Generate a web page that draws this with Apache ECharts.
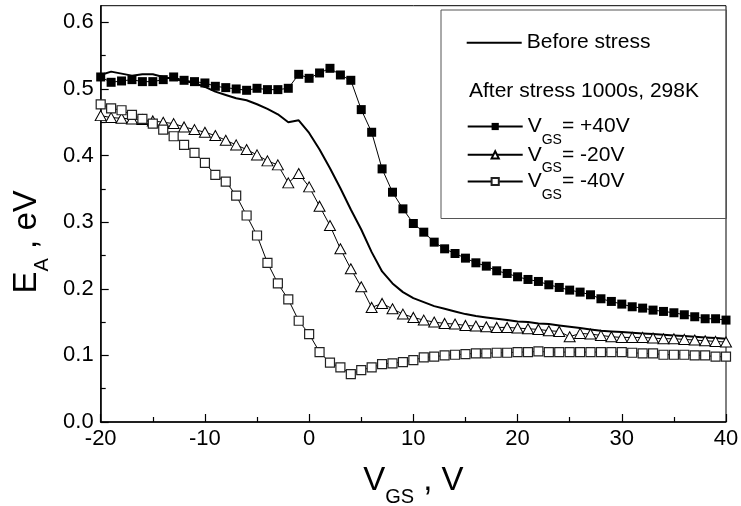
<!DOCTYPE html>
<html><head><meta charset="utf-8">
<script src="https://cdn.jsdelivr.net/npm/echarts@6/dist/echarts.min.js"></script>
<style>html,body{margin:0;padding:0;background:#fff}#c{width:741px;height:506px}</style>
</head><body><div id="c"></div>
<script>
const vgs = [-20,-19,-18,-17,-16,-15,-14,-13,-12,-11,-10,-9,-8,-7,-6,-5,-4,-3,-2,-1,0,1,2,3,4,5,6,7,8,9,10,11,12,13,14,15,16,17,18,19,20,21,22,23,24,25,26,27,28,29,30,31,32,33,34,35,36,37,38,39,40];
const beforeStress = [0.521,0.526,0.523,0.520,0.522,0.522,0.518,0.515,0.512,0.509,0.503,0.496,0.491,0.486,0.483,0.477,0.470,0.462,0.450,0.453,0.434,0.409,0.381,0.351,0.319,0.289,0.255,0.226,0.208,0.195,0.186,0.180,0.174,0.170,0.166,0.162,0.159,0.157,0.155,0.153,0.151,0.150,0.148,0.147,0.145,0.143,0.141,0.139,0.137,0.136,0.135,0.134,0.133,0.132,0.131,0.130,0.129,0.128,0.127,0.126,0.125];
const stressPlus40 = [0.518,0.510,0.512,0.514,0.511,0.511,0.514,0.518,0.513,0.511,0.509,0.504,0.502,0.500,0.498,0.501,0.499,0.499,0.501,0.522,0.516,0.524,0.531,0.521,0.513,0.469,0.435,0.380,0.345,0.320,0.298,0.285,0.270,0.260,0.253,0.246,0.239,0.234,0.227,0.223,0.218,0.214,0.211,0.206,0.202,0.198,0.195,0.191,0.185,0.181,0.177,0.173,0.171,0.168,0.166,0.164,0.161,0.158,0.155,0.155,0.153];
const stressMinus20 = [0.460,0.457,0.456,0.455,0.454,0.452,0.450,0.448,0.443,0.439,0.435,0.430,0.423,0.416,0.409,0.401,0.392,0.386,0.359,0.373,0.353,0.324,0.295,0.260,0.230,0.203,0.172,0.178,0.170,0.162,0.157,0.153,0.150,0.148,0.147,0.145,0.144,0.143,0.142,0.142,0.141,0.140,0.139,0.137,0.136,0.128,0.133,0.132,0.130,0.128,0.127,0.127,0.127,0.126,0.125,0.125,0.124,0.123,0.122,0.121,0.120];
const stressMinus40 = [0.477,0.471,0.468,0.461,0.455,0.448,0.439,0.429,0.416,0.404,0.389,0.371,0.361,0.340,0.310,0.280,0.239,0.208,0.184,0.152,0.132,0.105,0.089,0.082,0.072,0.078,0.082,0.087,0.088,0.090,0.093,0.097,0.098,0.100,0.101,0.102,0.103,0.103,0.104,0.104,0.105,0.105,0.106,0.105,0.105,0.105,0.105,0.105,0.105,0.105,0.105,0.104,0.103,0.103,0.101,0.101,0.101,0.100,0.100,0.098,0.098];
const seriesNames = ['Before stress','VGS= +40V','VGS= -20V','VGS= -40V'];
const yTicks = [0,0.1,0.2,0.3,0.4,0.5,0.6];
const yMinorTicks = [0.05,0.15,0.25,0.35,0.45,0.55];
const legendHeader = 'After stress 1000s, 298K';

const F = "'Liberation Sans', Arial, sans-serif";
const pairs = arr => vgs.map((x, i) => [x, arr[i]]);
const subRichLegend = {
  v: {fontSize: 21, lineHeight: 24, fontFamily: F, color: '#000'},
  s: {fontSize: 14, lineHeight: 14, fontFamily: F, color: '#000', padding: [27, 0, 0, 0]}
};
const legendBase = {
  left: 466.7, padding: 0, itemWidth: 55, itemHeight: 9, selectedMode: false,
  textStyle: {fontSize: 21, color: '#000', fontFamily: F, rich: subRichLegend}
};
const subFmt = n => '{v|V}{s|GS}{v|' + n.slice(3) + '}';

const chart = echarts.init(document.getElementById('c'), null, {renderer: 'canvas'});
chart.setOption({
  animation: false,
  backgroundColor: '#fff',
  grid: {left: 100.7, right: 15, top: 5.7, bottom: 84, show: true, borderColor: '#000', borderWidth: 1, outerBoundsMode: 'none', containLabel: false},
  xAxis: {
    type: 'value', min: -20, max: 40, interval: 10,
    axisLine: {onZero: false, lineStyle: {color: '#000', width: 1.5}},
    axisTick: {inside: true, length: 8, lineStyle: {color: '#000', width: 1.2}},
    minorTick: {show: true, splitNumber: 2, length: 5, lineStyle: {color: '#000', width: 1.2}},
    splitLine: {show: false},
    axisLabel: {color: '#000', fontSize: 22, fontFamily: F, margin: 6},
    name: '{v|V}{s|GS}{v| , V}', nameLocation: 'middle', nameGap: 31.5,
    nameTextStyle: {rich: {
      v: {fontSize: 33, lineHeight: 36, fontFamily: F, color: '#000'},
      s: {fontSize: 20, lineHeight: 20, fontFamily: F, color: '#000', padding: [33, 0, 0, 0]}
    }}
  },
  yAxis: [{
    type: 'value', min: 0, max: 0.625, interval: 0.1,
    axisLine: {onZero: false, lineStyle: {color: '#000', width: 1.5}},
    axisTick: {inside: true, length: 8, customValues: yTicks, lineStyle: {color: '#000', width: 1.2}},
    splitLine: {show: false},
    axisLabel: {customValues: yTicks, formatter: v => v.toFixed(1), color: '#000', fontSize: 22, fontFamily: F, margin: 7},
    name: '{v|E}{s|A}{v| , eV}', nameLocation: 'middle', nameGap: 49,
    nameTextStyle: {padding: [0, 56, 0, 0], rich: {
      v: {fontSize: 33, lineHeight: 36, fontFamily: F, color: '#000'},
      s: {fontSize: 20, lineHeight: 20, fontFamily: F, color: '#000', padding: [30, 0, 0, 0]}
    }}
  }, {
    type: 'value', min: 0, max: 0.625, position: 'left',
    axisLine: {show: false, onZero: false}, axisLabel: {show: false}, splitLine: {show: false},
    axisTick: {inside: true, length: 5, customValues: yMinorTicks, lineStyle: {color: '#000', width: 1.2}}
  }],
  legend: [
    Object.assign({}, legendBase, {data: [seriesNames[0]], top: 32.2, icon: 'rect', itemHeight: 2, itemStyle: {color: '#000'}, textStyle: {fontSize: 21, color: '#000', fontFamily: F}}),
    Object.assign({}, legendBase, {data: [seriesNames[1]], top: 106, formatter: subFmt}),
    Object.assign({}, legendBase, {data: [seriesNames[2]], top: 134.3, formatter: subFmt}),
    Object.assign({}, legendBase, {data: [seriesNames[3]], top: 161, formatter: subFmt})
  ],
  graphic: [
    {type: 'rect', left: 438.5, top: 7.5, z: 0, shape: {width: 285.5, height: 208.5}, style: {fill: 'none', stroke: '#555', lineWidth: 1}},
    {type: 'text', left: 469, top: 80.5, style: {text: legendHeader, font: "21px 'Liberation Sans', Arial, sans-serif", fill: '#000'}}
  ],
  series: [
    {name: seriesNames[0], type: 'line', data: pairs(beforeStress), symbol: 'none', lineStyle: {color: '#000', width: 2}, itemStyle: {color: '#000'}, z: 2},
    {name: seriesNames[1], type: 'line', data: pairs(stressPlus40), symbol: 'rect', symbolSize: 9, lineStyle: {color: '#000', width: 1}, itemStyle: {color: '#000'}, z: 3},
    {name: seriesNames[2], type: 'line', data: pairs(stressMinus20), symbol: 'triangle', symbolSize: [11, 10], lineStyle: {color: '#000', width: 1}, itemStyle: {color: '#fff', borderColor: '#000', borderWidth: 1}, z: 3},
    {name: seriesNames[3], type: 'line', data: pairs(stressMinus40), symbol: 'rect', symbolSize: 9, lineStyle: {color: '#000', width: 1}, itemStyle: {color: '#fff', borderColor: '#222', borderWidth: 1.2}, z: 3}
  ]
});
</script>
</body></html>
